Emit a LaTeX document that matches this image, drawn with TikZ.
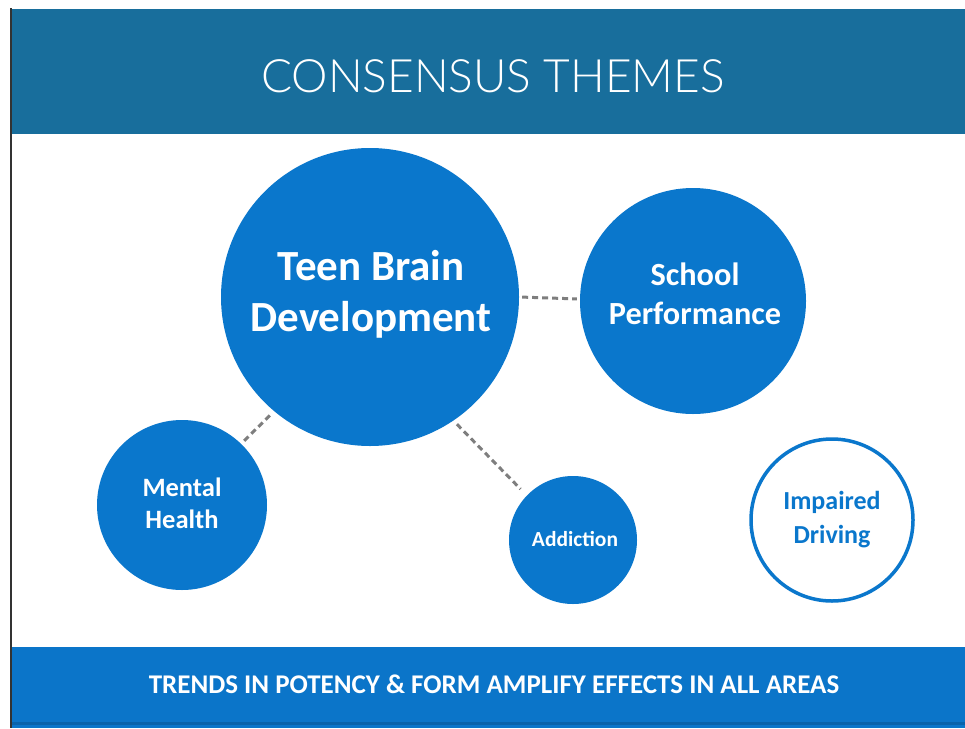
\documentclass[tikz,border=0pt]{standalone}
\usepackage{fontspec}
\setmainfont{Carlito}
\newfontfamily\titlefont{Lato}[UprightFont=* Light]
\definecolor{bandtop}{HTML}{186E9C}
\definecolor{bandbot}{HTML}{0B75C9}
\definecolor{bubble}{HTML}{0A77CC}
\definecolor{dashgray}{HTML}{7E7E7E}
\tikzset{
  bubblefill/.style={circle,fill=bubble,draw=none,inner sep=0pt},
  bubbleline/.style={circle,fill=white,draw=bubble,line width=3.5pt,inner sep=0pt},
  bubbletext/.style={align=center,text=white,inner sep=0pt},
  link/.style={draw=dashgray,line width=3pt,dash pattern=on 6pt off 4pt},
}
\begin{document}
\begin{tikzpicture}[x=1pt,y=-1pt]
  \useasboundingbox (0,0) rectangle (965,728);
  \fill[white] (0,0) rectangle (965,728);
  % header and footer bands
  \fill[bandtop] (10,9) rectangle (965,134);
  \fill[bandbot] (10,647) rectangle (965,728);
  \fill[bandbot!85!black] (10,722) rectangle (965,725);
  \draw[black!80,line width=2pt] (11,8) -- (11,728);
  \node[text=white,font=\fontsize{46}{54}\titlefont] (title) at (493,76) {CONSENSUS THEMES};
  \node[text=white,font=\fontsize{27}{32}\selectfont\bfseries] (footer) at (494,684) {TRENDS IN POTENCY \& FORM AMPLIFY EFFECTS IN ALL AREAS};
  % theme bubbles
  \node[bubblefill,minimum size=298pt] (brain) at (370,297) {};
  \node[bubblefill,minimum size=226pt] (school) at (693,301) {};
  \node[bubblefill,minimum size=170pt] (mental) at (182,505) {};
  \node[bubblefill,minimum size=128pt] (addiction) at (573,540) {};
  \node[bubbleline,minimum size=162pt] (driving) at (832,520) {};
  % bubble captions
  \node[bubbletext,font=\fontsize{43}{51}\selectfont\bfseries] (brain-txt) at (371,294) {Teen Brain\\Development};
  \node[bubbletext,font=\fontsize{32.3}{39}\selectfont\bfseries] (school-txt) at (695,294) {School\\Performance};
  \node[bubbletext,font=\fontsize{26.5}{32}\selectfont\bfseries] (mental-txt) at (182,503) {Mental\\Health};
  \node[bubbletext,font=\fontsize{21.5}{25}\selectfont\bfseries] (addiction-txt) at (575,539) {Addiction};
  \node[bubbletext,text=bubble,font=\fontsize{26}{34}\selectfont\bfseries] (driving-txt) at (832,520) {Impaired\\Driving};
  % dashed links between bubbles
  \draw[link,shorten <=3pt,shorten >=3pt] (brain.-0.77) -- (school.179);
  \draw[link,shorten <=6pt,shorten >=1pt] (brain.230.8) -- (mental.46);
  \draw[link,shorten <=5pt,shorten >=9pt] (brain.-56.4) -- (addiction.136.7);
\end{tikzpicture}
\end{document}
